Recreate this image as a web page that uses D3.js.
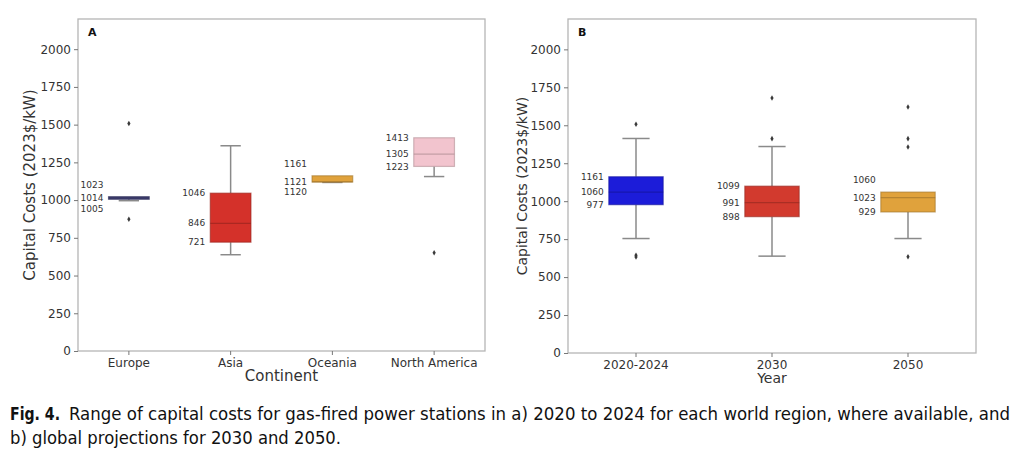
<!DOCTYPE html>
<html lang="en">
<head>
  <meta charset="UTF-8">
  <script src="https://d3js.org/d3.v7.min.js"></script>
  <title>Capital costs of gas-fired power stations</title>
  <style>
    body { margin: 0; background: #fff; }
    svg text { font-family: "DejaVu Sans", sans-serif; }
  </style>
</head>
<body>
  <script>
    // panel A: continents, 2020-2024
    const continents = ["Europe", "Asia", "Oceania", "North America"]
    const contQ1 = [1005, 721, 1120, 1223]
    const contMed = [1014, 846, 1121, 1305]
    const contQ3 = [1023, 1046, 1161, 1413]
    const contLo = [996, 638, 1117, 1156]
    const contHi = [1023, 1360, 1161, 1413]
    const contOut = [[1507, 873], [], [], [651]]
    const contColors = ["#45457c", "#d4312a", "#e0a23c", "#f2c4ce"]

    // panel B: global projections
    const years = ["2020-2024", "2030", "2050"]
    const yearQ1 = [977, 898, 929]
    const yearMed = [1060, 991, 1023]
    const yearQ3 = [1161, 1099, 1060]
    const yearLo = [754, 638, 754]
    const yearHi = [1413, 1360, 1060]
    const yearOut = [[1507, 644, 633], [1680, 1412], [1620, 1412, 1357, 634]]
    const yearColors = ["#1c1cd9", "#d23a2e", "#e0a23c"]

    const yTicks = [0, 250, 500, 750, 1000, 1250, 1500, 1750, 2000]

    const svg = d3.select("body").append("svg")
        .attr("width", 1024)
        .attr("height", 459)

    function panel(opt) {
      const cats = opt.cats
      const x = d3.scaleBand().domain(cats).range([opt.left, opt.right]).padding(0)
      const y = d3.scaleLinear().domain([0, 2200]).range([opt.bottom, opt.top])
      const g = svg.append("g")
      const bw = x.bandwidth() * 0.4

      // frame
      g.append("rect")
          .attr("x", opt.left).attr("y", opt.top)
          .attr("width", opt.right - opt.left).attr("height", opt.bottom - opt.top)
          .attr("fill", "none").attr("stroke", "#b5b5b5").attr("stroke-width", 1.3)

      const yAxis = g.append("g")
          .attr("transform", `translate(${opt.left},0)`)
          .call(d3.axisLeft(y).tickValues(yTicks).tickFormat(d3.format("d")).tickSize(4).tickPadding(3))
      const xAxis = g.append("g")
          .attr("transform", `translate(0,${opt.bottom})`)
          .call(d3.axisBottom(x).tickSize(4).tickPadding(3))
      for (const ax of [yAxis, xAxis]) {
        ax.select(".domain").remove()
        ax.selectAll(".tick line").attr("stroke", "#777")
        ax.selectAll(".tick text").attr("fill", "#333").style("font-size", "12px")
      }

      cats.forEach((c, i) => {
        const cx = x(c) + x.bandwidth() / 2
        const col = opt.colors[i]
        const edge = d3.color(col).darker(0.9)
        // whiskers
        g.append("line")
            .attr("x1", cx).attr("x2", cx)
            .attr("y1", y(opt.q3[i])).attr("y2", y(opt.hi[i]))
            .attr("stroke", "#8a8a8a").attr("stroke-width", 1.5)
        g.append("line")
            .attr("x1", cx).attr("x2", cx)
            .attr("y1", y(opt.q1[i])).attr("y2", y(opt.lo[i]))
            .attr("stroke", "#8a8a8a").attr("stroke-width", 1.5)
        for (const v of [opt.lo[i], opt.hi[i]]) {
          if (v === opt.q1[i] || v === opt.q3[i]) continue
          g.append("line")
              .attr("x1", cx - bw / 4).attr("x2", cx + bw / 4)
              .attr("y1", y(v)).attr("y2", y(v))
              .attr("stroke", "#8a8a8a").attr("stroke-width", 1.5)
        }
        // box
        g.append("rect")
            .attr("x", cx - bw / 2).attr("width", bw)
            .attr("y", y(opt.q3[i]))
            .attr("height", Math.max(y(opt.q1[i]) - y(opt.q3[i]), 1))
            .attr("fill", col)
            .attr("stroke", edge).attr("stroke-opacity", 0.6).attr("stroke-width", 1.2)
        g.append("line")
            .attr("x1", cx - bw / 2).attr("x2", cx + bw / 2)
            .attr("y1", y(opt.med[i])).attr("y2", y(opt.med[i]))
            .attr("stroke", edge).attr("stroke-opacity", 0.7).attr("stroke-width", 1.3)
        // outliers
        g.selectAll(null).data(opt.out[i]).join("path")
            .attr("d", d3.symbol(d3.symbolDiamond, 9))
            .attr("transform", d => `translate(${cx},${y(d)})`)
            .attr("fill", "#3a3a3a")

        // value labels, pushed apart when too close to the median
        const labs = [
          { v: opt.q3[i], at: opt.q3[i] - opt.med[i] < 50 ? opt.q3[i] + 78 : opt.q3[i] },
          { v: opt.med[i], at: opt.med[i] },
          { v: opt.q1[i], at: opt.med[i] - opt.q1[i] < 50 ? opt.q1[i] - 63 : opt.q1[i] }
        ]
        g.selectAll(null).data(labs).join("text")
            .attr("x", cx - bw / 2 - 5)
            .attr("y", d => y(d.at))
            .attr("dy", "0.35em")
            .attr("text-anchor", "end")
            .attr("fill", "#333")
            .style("font-size", "9px")
            .text(d => d.v)
      })

      // panel letter
      g.append("text")
          .attr("x", opt.left + 10).attr("y", opt.top + 17)
          .attr("font-weight", "bold").style("font-size", "11px").attr("fill", "#111")
          .text(opt.letter)

      g.append("text")
          .attr("transform", `translate(${opt.yLabelX},${(opt.top + opt.bottom) / 2}) rotate(-90)`)
          .attr("text-anchor", "middle").attr("dy", "0.35em")
          .attr("fill", "#333").style("font-size", opt.yLabelSize)
          .text("Capital Costs (2023$/kW)")

      g.append("text")
          .attr("x", (opt.left + opt.right) / 2).attr("y", opt.bottom + 30)
          .attr("text-anchor", "middle")
          .attr("fill", "#333").style("font-size", opt.xLabelSize)
          .text(opt.xLabel)
    }

    panel({
      cats: continents, q1: contQ1, med: contMed, q3: contQ3, lo: contLo, hi: contHi,
      out: contOut, colors: contColors,
      left: 78, right: 485, top: 19, bottom: 351,
      letter: "A", xLabel: "Continent", yLabelX: 30, yLabelSize: "15px", xLabelSize: "15px"
    })

    panel({
      cats: years, q1: yearQ1, med: yearMed, q3: yearQ3, lo: yearLo, hi: yearHi,
      out: yearOut, colors: yearColors,
      left: 568, right: 976, top: 19, bottom: 353,
      letter: "B", xLabel: "Year", yLabelX: 522, yLabelSize: "14px", xLabelSize: "14px"
    })

    // caption
    const capFont = '"Liberation Sans Narrow", "DejaVu Sans Condensed", "Liberation Sans", sans-serif'
    svg.append("text")
        .attr("x", 10).attr("y", 420)
        .style("font-family", capFont).style("font-size", "17px").attr("font-weight", "bold")
        .attr("fill", "#111")
        .attr("textLength", 50).attr("lengthAdjust", "spacingAndGlyphs")
        .text("Fig. 4.")
    svg.append("text")
        .attr("x", 69).attr("y", 420)
        .style("font-family", capFont).style("font-size", "17px")
        .attr("fill", "#111")
        .attr("textLength", 941).attr("lengthAdjust", "spacingAndGlyphs")
        .text("Range of capital costs for gas-fired power stations in a) 2020 to 2024 for each world region, where available, and")
    svg.append("text")
        .attr("x", 10).attr("y", 444)
        .style("font-family", capFont).style("font-size", "17px")
        .attr("fill", "#111")
        .attr("textLength", 331).attr("lengthAdjust", "spacingAndGlyphs")
        .text("b) global projections for 2030 and 2050.")
  </script>
</body>
</html>
